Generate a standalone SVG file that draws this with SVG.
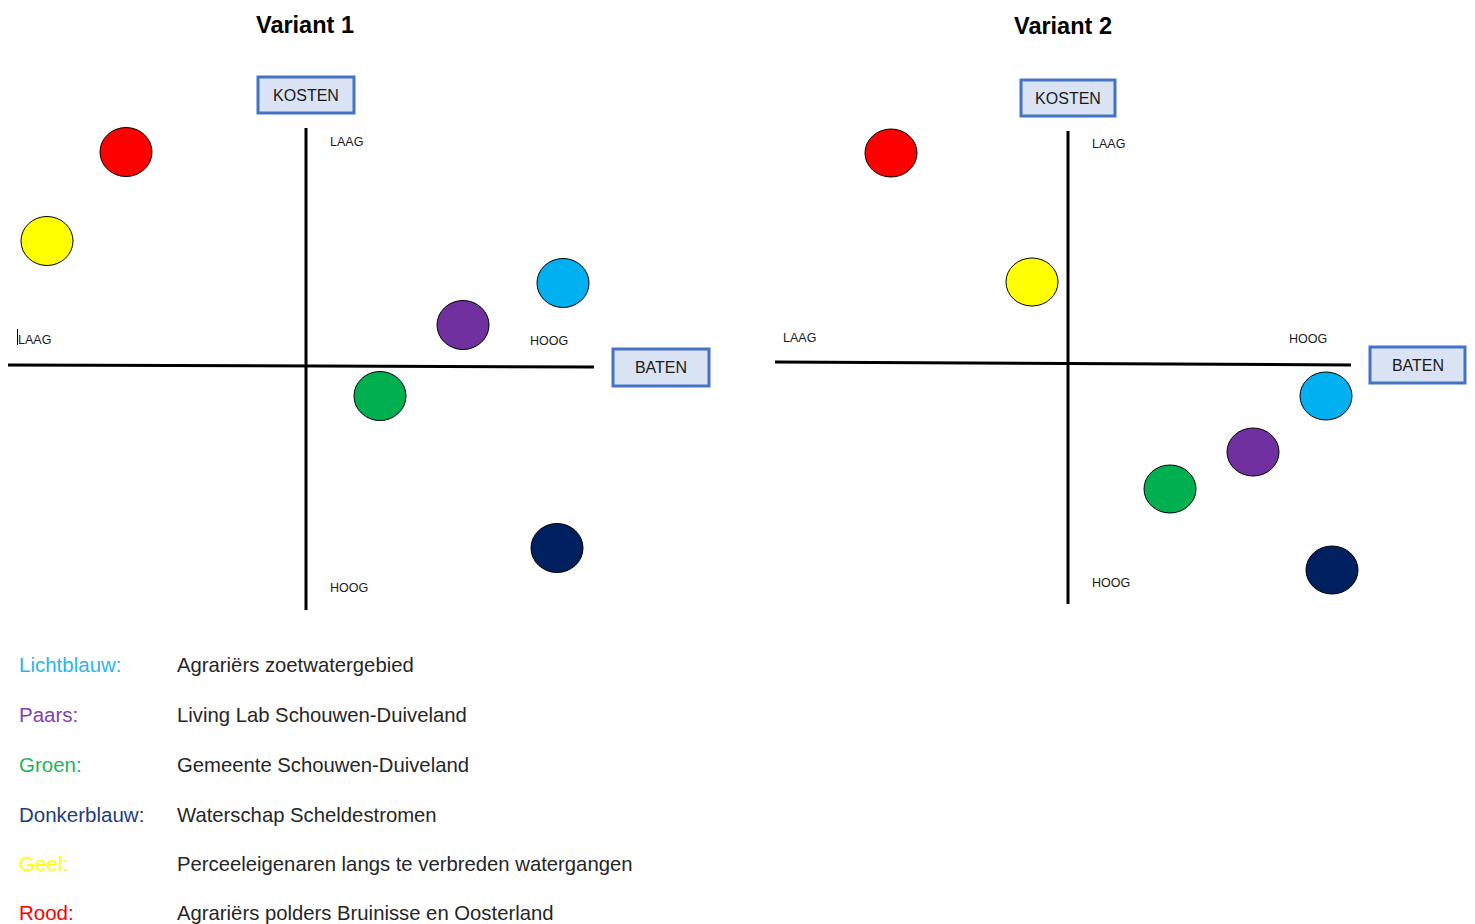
<svg xmlns="http://www.w3.org/2000/svg" width="1475" height="924" viewBox="0 0 1475 924">
<style>
text{font-family:"Liberation Sans","Open Sans",sans-serif}
.title{font-size:23.5px;font-weight:bold;fill:#000;text-anchor:middle}
.box rect{fill:#dae3f3;stroke:#4472c4;stroke-width:3}
.box text{font-size:16px;fill:#1a1a1a;text-anchor:middle}
.axis{stroke:#000;stroke-width:3;fill:none}
.lbl{font-size:12.5px;fill:#1a1a1a}
.dot{stroke:#000;stroke-width:1}
.leg{font-size:20.5px}
.desc{font-size:20.3px;fill:#262626}
</style>
<rect width="1475" height="924" fill="#fff"/>
<text class="title" x="305" y="33">Variant 1</text>
<text class="title" x="1063" y="34">Variant 2</text>

<g id="connectors">
<line class="axis" x1="306" y1="128" x2="306" y2="610"/>
<line class="axis" x1="8" y1="365" x2="594" y2="367"/>
<line class="axis" x1="1068" y1="131" x2="1068" y2="604"/>
<line class="axis" x1="775" y1="362" x2="1351" y2="365"/>
<line x1="17.5" y1="329" x2="17.5" y2="345" stroke="#000" stroke-width="1"/>
</g>

<g id="v1-kosten" class="box"><rect x="258" y="77" width="96" height="36"/><text x="306" y="101">KOSTEN</text></g>
<g id="v1-baten" class="box"><rect x="613" y="349" width="96" height="37"/><text x="661" y="373">BATEN</text></g>
<g id="v2-kosten" class="box"><rect x="1021" y="80" width="94" height="36"/><text x="1068" y="104">KOSTEN</text></g>
<g id="v2-baten" class="box"><rect x="1370" y="347" width="95" height="36"/><text x="1418" y="371">BATEN</text></g>

<g id="v1-labels">
<text class="lbl" x="330" y="146">LAAG</text>
<text class="lbl" x="18" y="344">LAAG</text>
<text class="lbl" x="530" y="345">HOOG</text>
<text class="lbl" x="330" y="592">HOOG</text>
</g>
<g id="v2-labels">
<text class="lbl" x="1092" y="148">LAAG</text>
<text class="lbl" x="783" y="342">LAAG</text>
<text class="lbl" x="1289" y="343">HOOG</text>
<text class="lbl" x="1092" y="587">HOOG</text>
</g>

<g id="v1-rood"><ellipse class="dot" cx="126" cy="152" rx="26" ry="24.5" fill="#ff0000"/></g>
<g id="v1-geel"><ellipse class="dot" cx="47" cy="241" rx="26" ry="24.5" fill="#ffff00"/></g>
<g id="v1-lichtblauw"><ellipse class="dot" cx="563" cy="283" rx="26" ry="24.5" fill="#00b0f0"/></g>
<g id="v1-paars"><ellipse class="dot" cx="463" cy="325" rx="26" ry="24.5" fill="#7030a0"/></g>
<g id="v1-groen"><ellipse class="dot" cx="380" cy="396" rx="26" ry="24.5" fill="#00b050"/></g>
<g id="v1-donkerblauw"><ellipse class="dot" cx="557" cy="548" rx="26" ry="24.5" fill="#002060"/></g>

<g id="v2-rood"><ellipse class="dot" cx="891" cy="153" rx="26" ry="24" fill="#ff0000"/></g>
<g id="v2-geel"><ellipse class="dot" cx="1032" cy="282" rx="26" ry="24" fill="#ffff00"/></g>
<g id="v2-lichtblauw"><ellipse class="dot" cx="1326" cy="396" rx="26" ry="24" fill="#00b0f0"/></g>
<g id="v2-paars"><ellipse class="dot" cx="1253" cy="452" rx="26" ry="24" fill="#7030a0"/></g>
<g id="v2-groen"><ellipse class="dot" cx="1170" cy="489" rx="26" ry="24" fill="#00b050"/></g>
<g id="v2-donkerblauw"><ellipse class="dot" cx="1332" cy="570" rx="26" ry="24" fill="#002060"/></g>

<g id="legend">
<text class="leg" x="19" y="672" fill="#2db4ec">Lichtblauw:</text>
<text class="desc" x="177" y="672">Agrariërs zoetwatergebied</text>
<text class="leg" x="19" y="722" fill="#8040b0">Paars:</text>
<text class="desc" x="177" y="722">Living Lab Schouwen-Duiveland</text>
<text class="leg" x="19" y="772" fill="#1fb35a">Groen:</text>
<text class="desc" x="177" y="772">Gemeente Schouwen-Duiveland</text>
<text class="leg" x="19" y="822" fill="#223d7f">Donkerblauw:</text>
<text class="desc" x="177" y="822">Waterschap Scheldestromen</text>
<text class="leg" x="19" y="871" fill="#ffff00">Geel:</text>
<text class="desc" x="177" y="871">Perceeleigenaren langs te verbreden watergangen</text>
<text class="leg" x="19" y="920" fill="#ff0000">Rood:</text>
<text class="desc" x="177" y="920">Agrariërs polders Bruinisse en Oosterland</text>
</g>
</svg>
